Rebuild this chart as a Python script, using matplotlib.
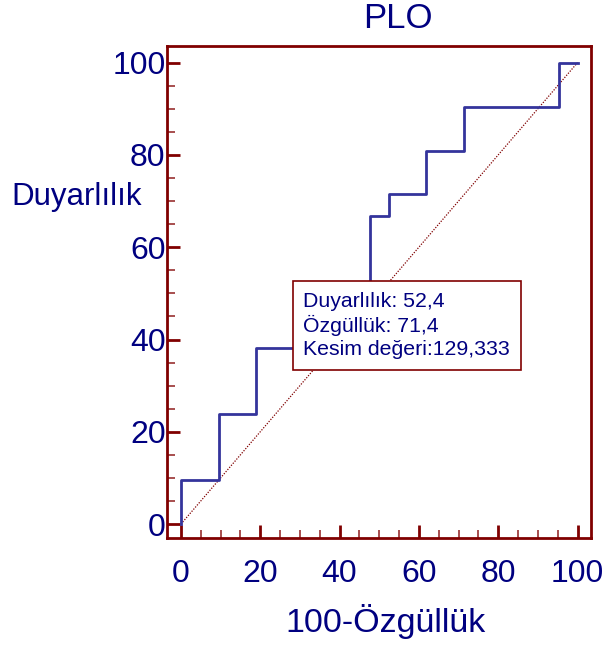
import matplotlib

matplotlib.use("Agg")
import matplotlib.pyplot as plt
from matplotlib.ticker import MultipleLocator

plt.rcParams["font.family"] = ["Liberation Sans", "DejaVu Sans"]

# ROC operating points (100-specificity, sensitivity)
fpr = [0, 0, 9.52, 9.52, 19.05, 19.05, 28.57, 28.57, 47.62, 47.62, 52.38, 52.38,
       61.90, 61.90, 71.43, 71.43, 95.24, 95.24, 100]
tpr = [0, 9.52, 9.52, 23.81, 23.81, 38.10, 38.10, 52.38, 52.38, 66.67, 66.67, 71.43,
       71.43, 80.95, 80.95, 90.48, 90.48, 100, 100]
diag = [0, 100]

cut_fpr = 28.57
cut_tpr = 52.38
info_lines = ["Duyarlılık: 52,4", "Özgüllük: 71,4", "Kesim değeri:129,333"]
ticks = [0, 20, 40, 60, 80, 100]

title = "PLO"
xlabel = "100-Özgüllük"
ylabel = "Duyarlılık"

red = "#800000"
navy = "#000080"
curve = "#34349c"

fig = plt.figure(figsize=(6.11, 6.46), dpi=100)
ax = fig.add_axes([0.2733, 0.1672, 0.9673 - 0.2733, 0.9288 - 0.1672])

ax.plot(diag, diag, color=red, lw=0.9, ls=(0, (1, 1.2)), zorder=2)
ax.plot(fpr, tpr, color=curve, lw=2, zorder=3)

# info box, top-left corner sits on the cut-off point
ax.annotate("\n".join(info_lines), xy=(cut_fpr, cut_tpr), xytext=(6.5, -7),
            textcoords="offset points", ha="left", va="top", fontsize=15.3,
            color=navy, linespacing=1.25, zorder=5,
            bbox=dict(boxstyle="square,pad=0.5", fc="white", ec=red, lw=1.2))

ax.set_xlim(-3.5, 103.4)
ax.set_ylim(-3.0, 103.6)
ax.set_xticks(ticks)
ax.set_yticks(ticks)
ax.xaxis.set_minor_locator(MultipleLocator(5))
ax.yaxis.set_minor_locator(MultipleLocator(5))

for s in ax.spines.values():
    s.set_color(red)
    s.set_linewidth(2)

ax.tick_params(which="major", direction="in", length=9.5, width=2, color=red,
               labelcolor=navy, labelsize=23)
ax.tick_params(which="minor", direction="in", length=5.5, width=1.3, color="#a04040")
ax.tick_params(axis="x", which="major", pad=15)
ax.tick_params(axis="y", which="major", pad=1)

fig.text(0.651, 0.972, title, ha="center", va="center", fontsize=25, color=navy)
fig.text(0.631, 0.038, xlabel, ha="center", va="center", fontsize=24.5, color=navy)
fig.text(0.018, 0.695, ylabel, ha="left", va="center", fontsize=22.5, color=navy)

fig.savefig("out.png", dpi=100)
